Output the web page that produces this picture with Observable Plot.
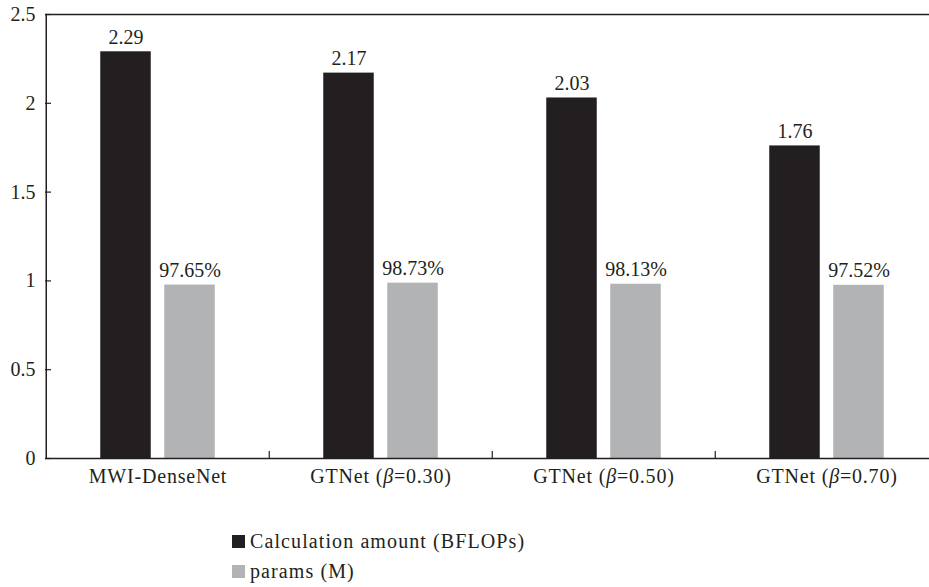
<!DOCTYPE html>
<html>
<head>
<meta charset="utf-8">
<script src="https://cdn.jsdelivr.net/npm/d3@7"></script>
<script src="https://cdn.jsdelivr.net/npm/@observablehq/plot@0.6"></script>
<style>
  html, body { margin: 0; padding: 0; background: #fff; overflow: hidden; }
  #chart { width: 929px; }
  .legend { padding: 26.5px 0 0 232px; font-family: "Liberation Serif", serif; font-size: 20px; letter-spacing: 1.1px; color: #231f20; }
  .legend .row { display: flex; align-items: center; height: 30px; }
  .legend .swatch { width: 13px; height: 13px; margin-right: 5px; }
</style>
</head>
<body>
<div id="chart"></div>
<script>
// Model variants on the horizontal axis
const models = ["MWI-DenseNet", "GTNet (β=0.30)", "GTNet (β=0.50)", "GTNet (β=0.70)"];
// Calculation amount in BFLOPs
const calcBFLOPs = [2.29, 2.17, 2.03, 1.76];
// Parameter ratio (shown as a percentage above each bar)
const paramsRatio = [0.9765, 0.9873, 0.9813, 0.9752];
// Vertical axis ticks
const yTicks = [0, 0.5, 1, 1.5, 2, 2.5];

const seriesNames = ["Calculation amount (BFLOPs)", "params (M)"];
const seriesColors = ["#231f20", "#b2b3b5"];

const calcRows = models.map((m, i) => ({model: m, value: calcBFLOPs[i]}));
const paramRows = models.map((m, i) => ({model: m, value: paramsRatio[i]}));

const ink = "#231f20";
const halfBand = 111.75;

const chart = Plot.plot({
  width: 929,
  height: 500,
  marginLeft: 45,
  marginRight: 0,
  marginTop: 14,
  marginBottom: 42,
  style: {fontFamily: "Liberation Serif, serif", fontSize: "20px", color: ink, background: "white"},
  x: {domain: models, range: [45, 939], padding: 0, label: null},
  y: {domain: [0, 2.5], label: null},
  marks: [
    // bars, two per model
    Plot.barY(calcRows, {x: "model", y: "value", fill: seriesColors[0], insetLeft: 86.25, insetRight: 86.25, dx: -32}),
    Plot.barY(paramRows, {x: "model", y: "value", fill: seriesColors[1], insetLeft: 86.25, insetRight: 86.25, dx: 32}),
    // value labels
    Plot.text(calcRows, {x: "model", y: "value", text: d => d.value.toFixed(2), dx: -32, dy: -8, lineAnchor: "bottom", fill: ink}),
    Plot.text(paramRows, {x: "model", y: "value", text: d => (d.value * 100).toFixed(2) + "%", dx: 32, dy: -8, lineAnchor: "bottom", fill: ink}),
    // top line and baseline
    Plot.ruleY([0, 2.5], {stroke: ink, strokeWidth: 1.5}),
    // left axis line
    Plot.ruleX([models[0]], {stroke: ink, strokeWidth: 1.5, dx: -halfBand}),
    // category separators on the baseline
    Plot.ruleX(models.slice(1), {stroke: ink, strokeWidth: 1.2, dx: -halfBand, insetTop: 437}),
    // inward y ticks
    Plot.ruleY(yTicks, {stroke: ink, strokeWidth: 1.2, insetRight: 878}),
    Plot.axisY({ticks: yTicks, tickSize: 0, tickPadding: 10, tickFormat: d => String(d)}),
    Plot.axisX({tickSize: 0, tickPadding: 10})
  ]
});

// model names: slightly tracked, with an italic beta
d3.select(chart).selectAll('g[aria-label="x-axis tick label"] text').each(function () {
  const el = d3.select(this).attr("letter-spacing", "0.8px");
  const t = this.textContent;
  if (!t.includes("β") || this.childElementCount > 0) return;
  const parts = t.split("β");
  el.text(null);
  parts.forEach((p, i) => {
    if (i > 0) el.append("tspan").attr("font-style", "italic").text("β");
    el.append("tspan").text(p);
  });
});

document.getElementById("chart").appendChild(chart);

// legend below the chart
const legend = d3.select("#chart").append("div").attr("class", "legend");
seriesNames.forEach((name, i) => {
  const row = legend.append("div").attr("class", "row");
  row.append("div").attr("class", "swatch").style("background", seriesColors[i]);
  row.append("span").text(name);
});
</script>
</body>
</html>
